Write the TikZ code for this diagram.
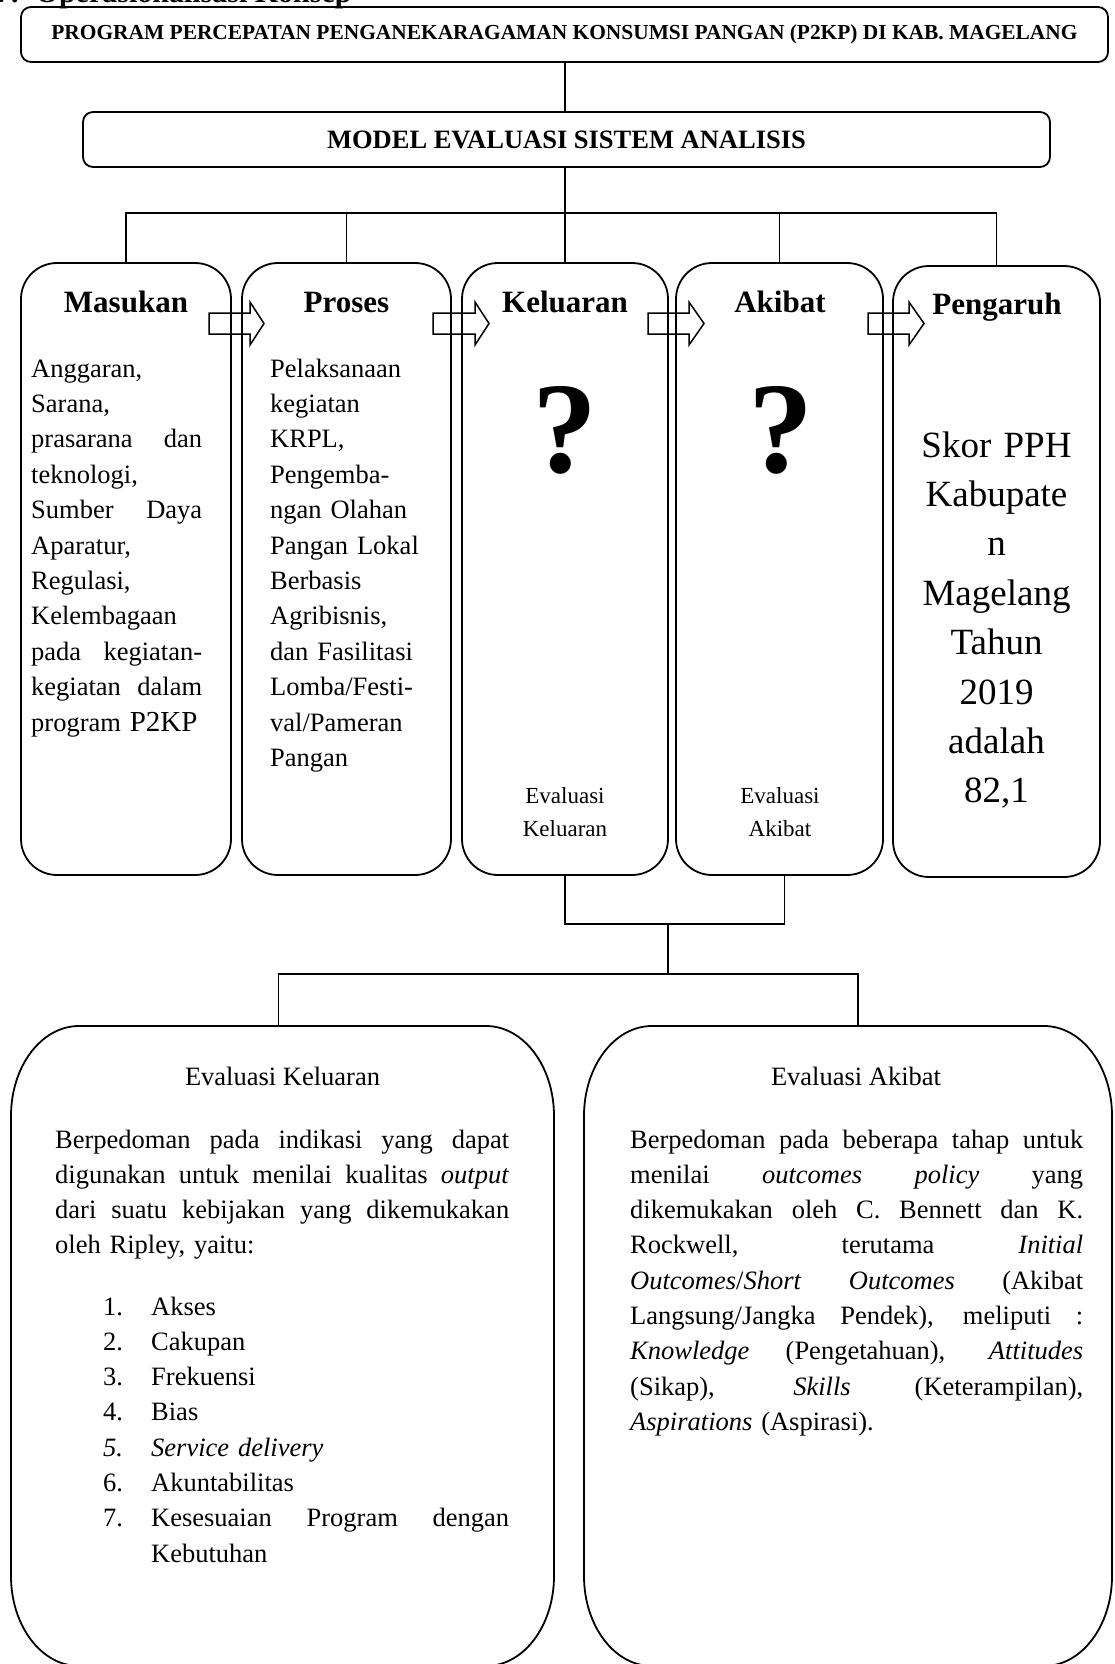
\documentclass[tikz,border=0pt]{standalone}
\usepackage{fontspec}
\setmainfont{Liberation Serif}
\usetikzlibrary{calc}
\newcommand\setfs[2]{\fontsize{#1pt}{#2pt}\selectfont}
\newcommand\sline[2]{\makebox[#1][s]{\spaceskip=0pt\xspaceskip=0pt #2}}
\newcommand\justline[1]{\sline{\linewidth}{#1}}
\newcommand\blockarr[3]{\draw[blk] (#1,313) -- (#2,313) -- (#2,302) -- (#3,323.5) -- (#2,345) -- (#2,334) -- (#1,334) -- cycle;}
\newcommand\bigshape[4]{\draw[bigline] (#1+68,#3) -- (#2-68,#3) .. controls (#2-30.4,#3) and (#2,#3+40.3) .. (#2,#3+90) -- (#2,#4-90) .. controls (#2,#4-40.3) and (#2-30.4,#4) .. (#2-68,#4) -- (#1+68,#4) .. controls (#1+30.4,#4) and (#1,#4-40.3) .. (#1,#4-90) -- (#1,#3+90) .. controls (#1,#3+40.3) and (#1+30.4,#3) .. (#1+68,#3) -- cycle;}
\begin{document}
\begin{tikzpicture}[x=1pt,y=-1pt,
  box/.style={draw, line width=1.8pt, inner sep=0pt},
  tall/.style={box, rounded corners=36pt, minimum height=612pt},
  head/.style={anchor=base, inner sep=0pt, font=\bfseries\setfs{31}{36}},
  conn/.style={line width=1.4pt},
  blk/.style={line width=1.5pt, line join=miter},
  bigline/.style={line width=1.8pt},
  txt/.style={anchor=base west, inner sep=0pt, align=left, font=\setfs{26.5}{35.4}},
  txtb/.style={anchor=base west, inner sep=0pt, align=left, font=\setfs{26.5}{35.3}},
  qm/.style={anchor=base, inner sep=0pt, font=\bfseries\setfs{130}{130}},
  small/.style={anchor=base, inner sep=0pt, align=center, text width=200pt, font=\setfs{23}{33}}]
\useasboundingbox (0,0) rectangle (1114,1664);

% heading (cut at top)
\node[anchor=base west, inner sep=0pt, font=\bfseries\setfs{30}{36}] (judul) at (-4,3) {7.\hspace{17pt}Operasionalisasi Konsep};

% top boxes
\node[box, rounded corners=10pt, minimum width=1087pt, minimum height=55pt, font=\bfseries\setfs{21.4}{25}] (prog) at (564.5,34.5) {PROGRAM PERCEPATAN PENGANEKARAGAMAN KONSUMSI PANGAN (P2KP) DI KAB. MAGELANG};
\node[box, rounded corners=10pt, minimum width=967pt, minimum height=55pt, font=\bfseries\setfs{26.5}{30}] (model) at (566.5,139.5) {MODEL EVALUASI SISTEM ANALISIS};

% five boxes
\node[tall, minimum width=210pt] (masukan) at (126,569) {};
\node[tall, minimum width=209pt] (proses) at (346.5,569) {};
\node[tall, minimum width=206pt] (keluaran) at (565,569) {};
\node[tall, minimum width=207pt] (akibat) at (779.5,569) {};
\node[tall, minimum width=207pt, minimum height=611pt] (pengaruh) at (996.5,571.5) {};

% connectors top
\draw[conn] (keluaran.north |- prog.south) -- (keluaran.north |- model.north);
\draw[conn] (keluaran.north |- model.south) -- (keluaran.north);
\coordinate (bus) at (565,213);
\draw[conn] (masukan.north) |- (bus) -| (pengaruh.north);
\draw[conn] (proses.north) -- (proses.north |- bus);
\draw[conn] (akibat.north) -- (akibat.north |- bus);

% headings
\node[head] (hmas) at (126,312) {Masukan};
\node[head] (hpro) at (346.5,312) {Proses};
\node[head] (hkel) at (565,312) {Keluaran};
\node[head] (hakb) at (780,312) {Akibat};
\node[head] (hpen) at (997,314) {Pengaruh};

% block arrows
\blockarr{209}{250}{264}
\blockarr{433}{475}{489}
\blockarr{648}{689}{704}
\blockarr{868}{909}{924}

% box texts
\node[txt, text width=171pt] (tmas) at (31,377) {Anggaran,\\Sarana,\\\justline{prasarana dan}\\teknologi,\\\justline{Sumber Daya}\\Aparatur,\\Regulasi,\\Kelembagaan\\\justline{pada kegiatan-}\\\justline{kegiatan dalam}\\program {\setfs{29}{35.4}P2KP}};
\node[txt, text width=181pt] (tpro) at (270,377) {Pelaksanaan\\kegiatan\\KRPL,\\Pengemba-\\ngan Olahan\\Pangan Lokal\\Berbasis\\Agribisnis,\\dan Fasilitasi\\Lomba/Festi-\\val/Pameran\\Pangan};
\node[qm] (q1) at (565,472) {?};
\node[qm] (q2) at (781,472) {?};
\node[small] (ek) at (565,803) {Evaluasi\\Keluaran};
\node[small] (ea) at (780,803) {Evaluasi\\Akibat};
\node[anchor=base, inner sep=0pt, align=center, text width=207pt, font=\setfs{37}{49.4}] (tpen) at (996.5,457) {Skor PPH\\Kabupate\\n\\Magelang\\Tahun\\2019\\adalah\\82,1};

% lower boxes
\node[minimum width=543pt, minimum height=640pt, inner sep=0pt] (evk) at (282.5,1346) {};
\node[minimum width=528pt, minimum height=640pt, inner sep=0pt] (eva) at (848,1346) {};
\bigshape{11}{554}{1026}{1666}
\bigshape{584}{1112}{1026}{1666}

% lower connectors
\coordinate (j1) at (668,924);
\coordinate (j2) at (668,974);
\draw[conn] (keluaran.south) |- (j1) -| ([xshift=5pt]akibat.south);
\draw[conn] (j1) -- (j2);
\draw[conn] ([xshift=-4pt]evk.north) |- (j2) -| ([xshift=10pt]eva.north);

% lower texts
\node[anchor=base, inner sep=0pt, font=\setfs{26.5}{35.3}] (tk) at (282.5,1085) {Evaluasi Keluaran};
\node[anchor=base, inner sep=0pt, font=\setfs{26.5}{35.3}] (ta) at (856,1085) {Evaluasi Akibat};
\node[txtb, text width=454pt] (bk) at (55,1148) {\justline{Berpedoman pada indikasi yang dapat}\\\justline{digunakan untuk menilai kualitas \textit{output}}\\\justline{dari suatu kebijakan yang dikemukakan}\\oleh Ripley, yaitu:};
\node[txtb, text width=406pt] (lst) at (103,1315) {\makebox[48pt][l]{1.}Akses\\\makebox[48pt][l]{2.}Cakupan\\\makebox[48pt][l]{3.}Frekuensi\\\makebox[48pt][l]{4.}Bias\\\makebox[48pt][l]{\textit{5.}}\textit{Service delivery}\\\makebox[48pt][l]{6.}Akuntabilitas\\\makebox[48pt][l]{7.}\sline{358pt}{Kesesuaian Program dengan}\\\hspace*{48pt}Kebutuhan};
\node[txtb, text width=453pt] (ba) at (630,1148) {\justline{Berpedoman pada beberapa tahap untuk}\\\justline{menilai \textit{outcomes} \textit{policy} yang}\\\justline{dikemukakan oleh C. Bennett dan K.}\\\justline{Rockwell, terutama \textit{Initial}}\\\justline{\textit{Outcomes}/\textit{Short} \textit{Outcomes} (Akibat}\\\justline{Langsung/Jangka Pendek), meliputi :}\\\justline{\textit{Knowledge} (Pengetahuan), \textit{Attitudes}}\\\justline{(Sikap), \textit{Skills} (Keterampilan),}\\\textit{Aspirations} (Aspirasi).};
\end{tikzpicture}
\end{document}
